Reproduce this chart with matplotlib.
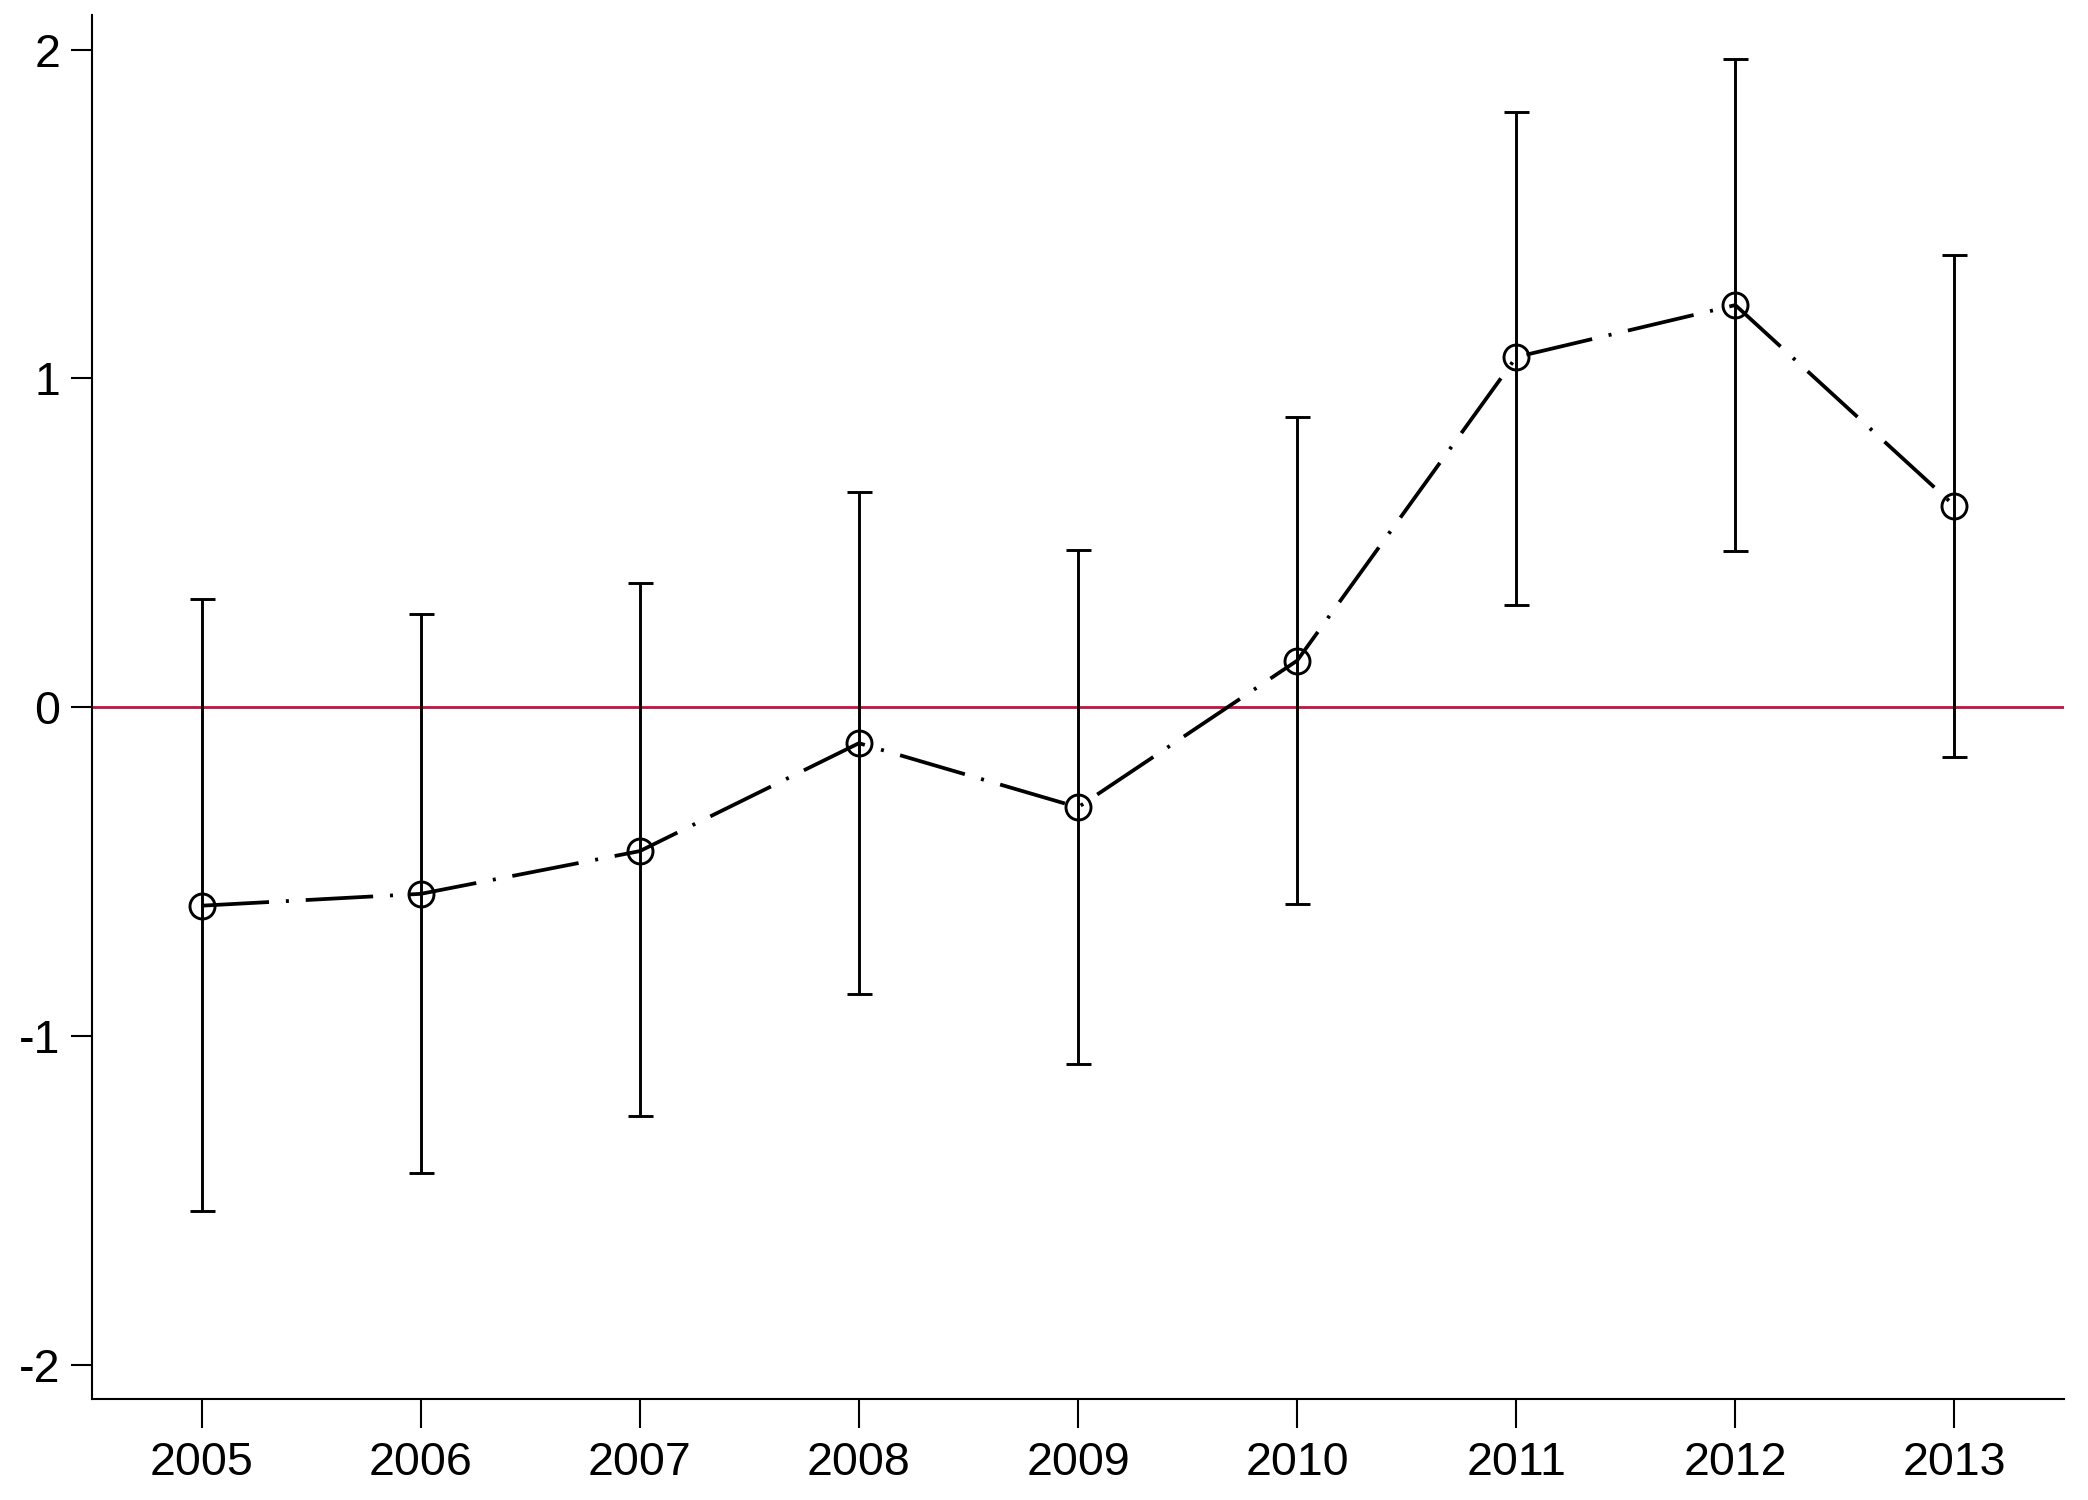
import numpy as np
import matplotlib
matplotlib.use('Agg')
import matplotlib.pyplot as plt

plt.rcParams['font.family'] = ['Liberation Sans', 'DejaVu Sans']

years = [2005, 2006, 2007, 2008, 2009, 2010, 2011, 2012, 2013]
coef = [-0.603, -0.567, -0.437, -0.109, -0.304, 0.142, 1.065, 1.223, 0.613]
ci_hi = [0.328, 0.283, 0.377, 0.656, 0.478, 0.883, 1.810, 1.972, 1.376]
ci_lo = [-1.530, -1.417, -1.243, -0.870, -1.085, -0.599, 0.312, 0.474, -0.152]
yticks = [-2, -1, 0, 1, 2]

coef = np.array(coef)
err = [coef - np.array(ci_lo), np.array(ci_hi) - coef]

fig = plt.figure(figsize=(20.88, 15), dpi=100)
ax = fig.add_axes([0.0441, 0.0673, 0.9444, 0.9227])

ax.axhline(0, color='#C8103E', lw=2.0, zorder=1)
ax.errorbar(years, coef, yerr=err, fmt='none', ecolor='black',
            elinewidth=2.1, capsize=9, capthick=2.1, zorder=2)
ax.plot(years, coef, color='black', lw=2.7, linestyle=(0, (18, 4.5, 0.8, 4.5)), zorder=3)
ax.plot(years, coef, linestyle='none', marker='o', ms=18, mfc='none',
        mec='black', mew=2.1, zorder=4)

ax.set_xlim(2004.5, 2013.5)
ax.set_ylim(-2.103, 2.105)
ax.set_xticks(years)
ax.set_yticks(yticks)
ax.set_yticklabels([str(t) for t in yticks])

for s in ['top', 'right']:
    ax.spines[s].set_visible(False)
for s in ['left', 'bottom']:
    ax.spines[s].set_linewidth(1.5)

ax.tick_params(axis='x', length=21, width=1.5, pad=9, labelsize=33.5)
ax.tick_params(axis='y', length=15, width=1.5, pad=8, labelsize=33.5)

fig.savefig('out.png', dpi=100, facecolor='white')
